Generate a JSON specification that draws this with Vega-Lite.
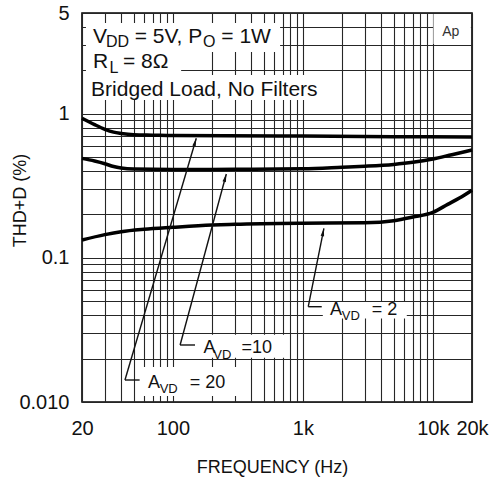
{
  "$schema": "https://vega.github.io/schema/vega-lite/v6.json",
  "width": 390,
  "height": 389,
  "autosize": {"type": "none"},
  "padding": {"left": 82, "top": 13, "right": 23, "bottom": 77},
  "background": "white",
  "config": {
    "view": {"stroke": "#000", "strokeWidth": 1.6},
    "font": "Liberation Sans",
    "axis": {
      "grid": true,
      "gridColor": "#262626",
      "gridWidth": 1.1,
      "gridOpacity": 1,
      "domain": false,
      "ticks": false,
      "tickSize": 0,
      "labelFont": "Liberation Sans",
      "labelColor": "#111",
      "labelFontSize": 20,
      "labelOverlap": false,
      "labelFlush": false,
      "labelBound": false,
      "titleFont": "Liberation Sans",
      "titleFontWeight": "normal",
      "titleColor": "#111",
      "titleFontSize": 18
    }
  },
  "datasets": {
    "curves": [
      {"g": "20", "f": 20, "t": 0.93},
      {"g": "20", "f": 25, "t": 0.84},
      {"g": "20", "f": 30, "t": 0.78},
      {"g": "20", "f": 35, "t": 0.745},
      {"g": "20", "f": 40, "t": 0.73},
      {"g": "20", "f": 50, "t": 0.715},
      {"g": "20", "f": 70, "t": 0.71},
      {"g": "20", "f": 100, "t": 0.705},
      {"g": "20", "f": 1000, "t": 0.7},
      {"g": "20", "f": 5000, "t": 0.693},
      {"g": "20", "f": 20000, "t": 0.69},
      {"g": "10", "f": 20, "t": 0.49},
      {"g": "10", "f": 25, "t": 0.47},
      {"g": "10", "f": 30, "t": 0.45},
      {"g": "10", "f": 35, "t": 0.43},
      {"g": "10", "f": 40, "t": 0.42},
      {"g": "10", "f": 50, "t": 0.413},
      {"g": "10", "f": 100, "t": 0.41},
      {"g": "10", "f": 300, "t": 0.412},
      {"g": "10", "f": 1000, "t": 0.415},
      {"g": "10", "f": 2000, "t": 0.425},
      {"g": "10", "f": 3000, "t": 0.432},
      {"g": "10", "f": 5000, "t": 0.445},
      {"g": "10", "f": 7000, "t": 0.46},
      {"g": "10", "f": 10000, "t": 0.485},
      {"g": "10", "f": 14000, "t": 0.52},
      {"g": "10", "f": 20000, "t": 0.56},
      {"g": "2", "f": 20, "t": 0.133},
      {"g": "2", "f": 30, "t": 0.145},
      {"g": "2", "f": 40, "t": 0.152},
      {"g": "2", "f": 60, "t": 0.158},
      {"g": "2", "f": 100, "t": 0.163},
      {"g": "2", "f": 200, "t": 0.169},
      {"g": "2", "f": 300, "t": 0.171},
      {"g": "2", "f": 1000, "t": 0.174},
      {"g": "2", "f": 3000, "t": 0.175},
      {"g": "2", "f": 5000, "t": 0.181},
      {"g": "2", "f": 7000, "t": 0.192},
      {"g": "2", "f": 10000, "t": 0.207},
      {"g": "2", "f": 13000, "t": 0.235},
      {"g": "2", "f": 16000, "t": 0.26},
      {"g": "2", "f": 20000, "t": 0.295}
    ],
    "arrows": [
      {"g": "20", "f_tail": 42.8, "t_tail": 0.01421, "f_tip": 151.4, "t_tip": 0.6755, "f_end": 55.5},
      {"g": "10", "f_tail": 113.7, "t_tail": 0.02486, "f_tip": 257.7, "t_tip": 0.382, "f_end": 148},
      {"g": "2", "f_tail": 1100, "t_tail": 0.04583, "f_tip": 1452, "t_tip": 0.1604, "f_end": 1397}
    ],
    "masks": [
      {"f1": 21.45, "f2": 668, "t1": 4.26, "t2": 2.68},
      {"f1": 21.45, "f2": 115.8, "t1": 2.68, "t2": 1.858},
      {"f1": 21.45, "f2": 1766, "t1": 1.858, "t2": 1.245},
      {"f1": 10100, "f2": 19600, "t1": 4.93, "t2": 3.05},
      {"f1": 52, "f2": 379, "t1": 0.0175, "t2": 0.011},
      {"f1": 150, "f2": 732, "t1": 0.0293, "t2": 0.0203},
      {"f1": 1424, "f2": 6300, "t1": 0.0495, "t2": 0.038}
    ],
    "notes": [
      {"text": "V", "f": 24.3, "t": 3.096},
      {"text": "= 5V, P", "f": 50.9, "t": 3.096},
      {"text": "= 1W", "f": 235.8, "t": 3.096},
      {"text": "R", "f": 24.3, "t": 2.067},
      {"text": "= 8Ω", "f": 41.3, "t": 2.067},
      {"text": "Bridged Load, No Filters", "f": 23.5, "t": 1.328}
    ],
    "noteSubs": [
      {"text": "DD", "f": 30.6, "t": 2.891},
      {"text": "O", "f": 170.6, "t": 2.891},
      {"text": "L", "f": 32.5, "t": 1.908}
    ],
    "gainText": [
      {"text": "A", "f": 64.3, "t": 0.01245},
      {"text": "= 20", "f": 134.7, "t": 0.01245},
      {"text": "A", "f": 171.8, "t": 0.02178},
      {"text": "=10", "f": 337.7, "t": 0.02178},
      {"text": "A", "f": 1617, "t": 0.0402},
      {"text": "= 2", "f": 3384, "t": 0.0402}
    ],
    "gainSubs": [
      {"text": "VD", "f": 79.2, "t": 0.01149},
      {"text": "VD", "f": 204.6, "t": 0.01987},
      {"text": "VD", "f": 1990, "t": 0.0371}
    ],
    "tag": [
      {"text": "Ap", "f": 11800, "t": 3.46}
    ]
  },
  "layer": [
    {
      "data": {"name": "masks"},
      "mark": {"type": "rect", "fill": "white", "stroke": null},
      "encoding": {
        "x": {
          "field": "f1", "type": "quantitative",
          "scale": {"type": "log", "domain": [20, 20000], "nice": false},
          "title": "FREQUENCY (Hz)",
          "axis": {
            "values": [20, 30, 40, 50, 60, 70, 80, 90, 100, 200, 300, 400, 500, 600, 700, 800, 900, 1000, 2000, 3000, 4000, 5000, 6000, 7000, 8000, 9000, 10000, 20000],
            "labelExpr": "datum.value == 20 ? '20' : datum.value == 100 ? '100' : datum.value == 1000 ? '1k' : datum.value == 10000 ? '10k' : datum.value == 20000 ? '20k' : ''",
            "labelPadding": 16,
            "titleX": 190,
            "titleY": 70,
            "titleBaseline": "alphabetic"
          }
        },
        "x2": {"field": "f2"},
        "y": {
          "field": "t1", "type": "quantitative",
          "scale": {"type": "log", "domain": [0.01, 5], "nice": false},
          "title": "THD+D (%)",
          "axis": {
            "values": [0.01, 0.02, 0.03, 0.04, 0.05, 0.06, 0.07, 0.08, 0.09, 0.1, 0.2, 0.3, 0.4, 0.5, 0.6, 0.7, 0.8, 0.9, 1, 2, 3, 4, 5],
            "labelExpr": "datum.value == 5 ? '5' : datum.value == 1 ? '1' : datum.value == 0.1 ? '0.1' : datum.value == 0.01 ? '0.010' : ''",
            "labelPadding": 13,
            "titleAngle": 270,
            "titleX": -57,
            "titleY": 187,
            "titleBaseline": "alphabetic",
            "titleAlign": "center"
          }
        },
        "y2": {"field": "t2"}
      }
    },
    {
      "data": {"name": "curves"},
      "mark": {"type": "line", "color": "#000", "strokeWidth": 3.5, "interpolate": "monotone"},
      "encoding": {
        "x": {"field": "f", "type": "quantitative", "scale": {"type": "log", "domain": [20, 20000], "nice": false}},
        "y": {"field": "t", "type": "quantitative", "scale": {"type": "log", "domain": [0.01, 5], "nice": false}},
        "detail": {"field": "g"}
      }
    },
    {
      "data": {"name": "arrows"},
      "mark": {"type": "rule", "color": "#111", "strokeWidth": 1.4},
      "encoding": {
        "x": {"field": "f_tail", "type": "quantitative", "scale": {"type": "log", "domain": [20, 20000], "nice": false}},
        "y": {"field": "t_tail", "type": "quantitative", "scale": {"type": "log", "domain": [0.01, 5], "nice": false}},
        "x2": {"field": "f_tip"},
        "y2": {"field": "t_tip"}
      }
    },
    {
      "data": {"name": "arrows"},
      "mark": {"type": "rule", "color": "#111", "strokeWidth": 1.4},
      "encoding": {
        "x": {"field": "f_tail", "type": "quantitative", "scale": {"type": "log", "domain": [20, 20000], "nice": false}},
        "x2": {"field": "f_end"},
        "y": {"field": "t_tail", "type": "quantitative", "scale": {"type": "log", "domain": [0.01, 5], "nice": false}}
      }
    },
    {
      "data": {"name": "arrows"},
      "transform": [{"filter": "datum.g == '20'"}],
      "mark": {"type": "point", "shape": "M0,0L0.5,2.3L-0.5,2.3Z", "filled": true, "size": 49, "color": "#111", "opacity": 1, "angle": 16.4},
      "encoding": {
        "x": {"field": "f_tip", "type": "quantitative", "scale": {"type": "log", "domain": [20, 20000], "nice": false}},
        "y": {"field": "t_tip", "type": "quantitative", "scale": {"type": "log", "domain": [0.01, 5], "nice": false}}
      }
    },
    {
      "data": {"name": "arrows"},
      "transform": [{"filter": "datum.g == '10'"}],
      "mark": {"type": "point", "shape": "M0,0L0.5,2.3L-0.5,2.3Z", "filled": true, "size": 49, "color": "#111", "opacity": 1, "angle": 15.2},
      "encoding": {
        "x": {"field": "f_tip", "type": "quantitative", "scale": {"type": "log", "domain": [20, 20000], "nice": false}},
        "y": {"field": "t_tip", "type": "quantitative", "scale": {"type": "log", "domain": [0.01, 5], "nice": false}}
      }
    },
    {
      "data": {"name": "arrows"},
      "transform": [{"filter": "datum.g == '2'"}],
      "mark": {"type": "point", "shape": "M0,0L0.5,2.3L-0.5,2.3Z", "filled": true, "size": 49, "color": "#111", "opacity": 1, "angle": 11.3},
      "encoding": {
        "x": {"field": "f_tip", "type": "quantitative", "scale": {"type": "log", "domain": [20, 20000], "nice": false}},
        "y": {"field": "t_tip", "type": "quantitative", "scale": {"type": "log", "domain": [0.01, 5], "nice": false}}
      }
    },
    {
      "data": {"name": "notes"},
      "mark": {"type": "text", "align": "left", "baseline": "alphabetic", "fontSize": 21, "color": "#111", "font": "Liberation Sans"},
      "encoding": {
        "x": {"field": "f", "type": "quantitative", "scale": {"type": "log", "domain": [20, 20000], "nice": false}},
        "y": {"field": "t", "type": "quantitative", "scale": {"type": "log", "domain": [0.01, 5], "nice": false}},
        "text": {"field": "text"}
      }
    },
    {
      "data": {"name": "noteSubs"},
      "mark": {"type": "text", "align": "left", "baseline": "alphabetic", "fontSize": 16, "color": "#111", "font": "Liberation Sans"},
      "encoding": {
        "x": {"field": "f", "type": "quantitative", "scale": {"type": "log", "domain": [20, 20000], "nice": false}},
        "y": {"field": "t", "type": "quantitative", "scale": {"type": "log", "domain": [0.01, 5], "nice": false}},
        "text": {"field": "text"}
      }
    },
    {
      "data": {"name": "gainText"},
      "mark": {"type": "text", "align": "left", "baseline": "alphabetic", "fontSize": 18, "color": "#111", "font": "Liberation Sans"},
      "encoding": {
        "x": {"field": "f", "type": "quantitative", "scale": {"type": "log", "domain": [20, 20000], "nice": false}},
        "y": {"field": "t", "type": "quantitative", "scale": {"type": "log", "domain": [0.01, 5], "nice": false}},
        "text": {"field": "text"}
      }
    },
    {
      "data": {"name": "gainSubs"},
      "mark": {"type": "text", "align": "left", "baseline": "alphabetic", "fontSize": 13, "color": "#111", "font": "Liberation Sans"},
      "encoding": {
        "x": {"field": "f", "type": "quantitative", "scale": {"type": "log", "domain": [20, 20000], "nice": false}},
        "y": {"field": "t", "type": "quantitative", "scale": {"type": "log", "domain": [0.01, 5], "nice": false}},
        "text": {"field": "text"}
      }
    },
    {
      "data": {"name": "tag"},
      "mark": {"type": "text", "align": "left", "baseline": "alphabetic", "fontSize": 14, "color": "#333", "font": "Liberation Sans"},
      "encoding": {
        "x": {"field": "f", "type": "quantitative", "scale": {"type": "log", "domain": [20, 20000], "nice": false}},
        "y": {"field": "t", "type": "quantitative", "scale": {"type": "log", "domain": [0.01, 5], "nice": false}},
        "text": {"field": "text"}
      }
    }
  ]
}
